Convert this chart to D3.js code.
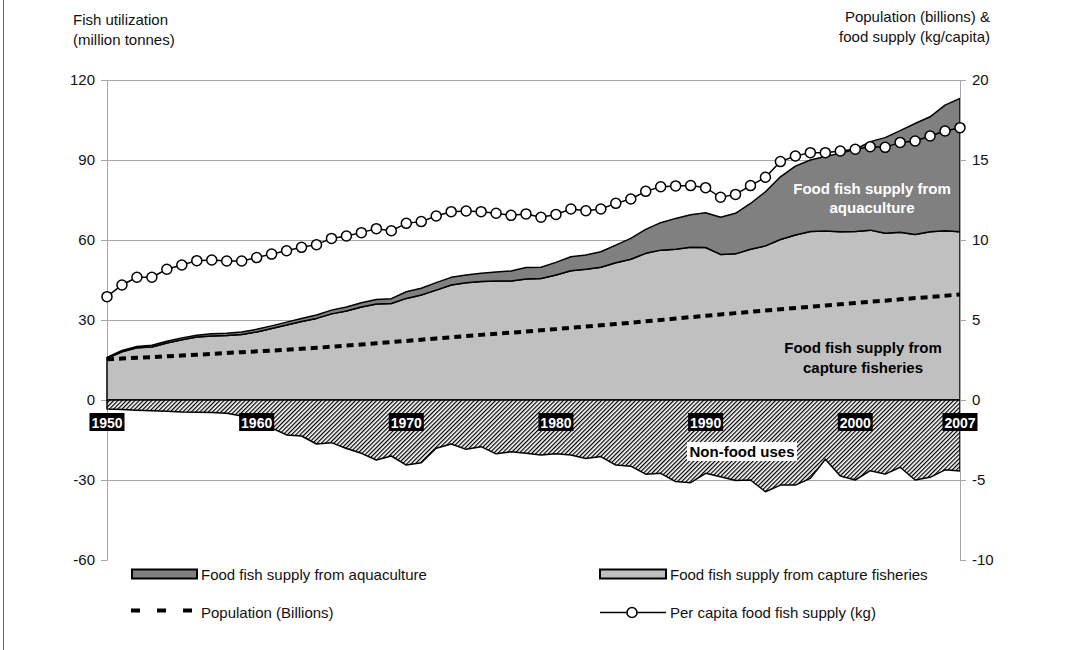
<!DOCTYPE html>
<html>
<head>
<meta charset="utf-8">
<script src="https://cdn.jsdelivr.net/npm/d3@7"></script>
<style>
body { margin: 0; background: #fff; }
text { font-family: "Liberation Sans", Arial, Helvetica, sans-serif; }
</style>
</head>
<body>
<script>
// years on the category axis
var years = d3.range(1950, 2008);

// food fish supply from capture fisheries (million tonnes)
var capture = [15.6, 18.1, 19.6, 19.9, 21.4, 22.6, 23.6, 24.0, 24.2, 24.6,
               25.5, 26.8, 28.1, 29.4, 30.6, 32.3, 33.4, 34.9, 36.0, 36.2,
               38.1, 39.4, 41.2, 43.1, 44.0, 44.4, 44.6, 44.6, 45.4, 45.6,
               46.9, 48.5, 49.0, 49.8, 51.5, 52.8, 55.0, 56.2, 56.5, 57.3,
               57.2, 54.6, 54.8, 56.5, 57.8, 60.2, 61.9, 63.2, 63.4, 63.1,
               63.2, 63.7, 62.5, 62.9, 62.1, 63.1, 63.5, 63.1];

// food fish supply from aquaculture (million tonnes)
var aquaculture = [0.4, 0.5, 0.5, 0.6, 0.6, 0.7, 0.7, 0.8, 0.8, 0.9,
                   1.0, 1.0, 1.1, 1.2, 1.3, 1.4, 1.5, 1.6, 1.7, 1.8,
                   2.5, 2.5, 2.8, 2.9, 2.9, 3.1, 3.4, 3.8, 4.3, 4.2,
                   4.7, 5.2, 5.4, 5.8, 6.6, 7.8, 9.0, 10.3, 11.6, 12.2,
                   13.0, 13.9, 15.2, 17.2, 20.3, 23.5, 25.8, 26.8, 27.9, 29.4,
                   30.8, 33.2, 35.9, 38.1, 41.6, 43.1, 47.1, 50.0];

// non-food uses (million tonnes, drawn below zero)
var nonFood = [-3.4, -3.6, -3.8, -4.0, -4.2, -4.5, -4.6, -4.7, -5.0, -6.0,
               -8.0, -10.5, -13.1, -13.5, -16.5, -16.0, -18.2, -20.0, -22.5, -21.0,
               -24.4, -23.5, -18.1, -16.5, -18.5, -17.5, -20.2, -19.4, -20.0, -20.6,
               -20.2, -20.6, -21.9, -21.2, -24.4, -24.8, -27.8, -27.5, -30.6, -31.0,
               -27.5, -28.8, -30.2, -30.0, -34.4, -31.9, -31.9, -29.4, -22.2, -28.5,
               -30.0, -26.5, -27.8, -25.2, -30.0, -29.0, -26.2, -26.6];

// population (billions), right axis
var population = [2.55, 2.59, 2.64, 2.68, 2.73, 2.78, 2.83, 2.88, 2.94, 2.99,
                  3.04, 3.08, 3.14, 3.20, 3.26, 3.33, 3.40, 3.47, 3.54, 3.62,
                  3.69, 3.77, 3.85, 3.92, 4.00, 4.07, 4.14, 4.21, 4.28, 4.36,
                  4.43, 4.51, 4.59, 4.67, 4.75, 4.83, 4.92, 5.00, 5.09, 5.18,
                  5.26, 5.35, 5.43, 5.51, 5.59, 5.67, 5.75, 5.83, 5.91, 5.98,
                  6.06, 6.14, 6.21, 6.29, 6.37, 6.44, 6.52, 6.60];

// per capita food fish supply (kg), right axis
var perCapita = [6.46, 7.19, 7.67, 7.67, 8.17, 8.44, 8.71, 8.75, 8.69, 8.69,
                 8.90, 9.12, 9.33, 9.54, 9.71, 10.10, 10.25, 10.46, 10.71, 10.58,
                 11.04, 11.15, 11.50, 11.77, 11.81, 11.77, 11.67, 11.54, 11.63, 11.42,
                 11.60, 11.94, 11.83, 11.94, 12.29, 12.56, 13.04, 13.33, 13.38, 13.40,
                 13.27, 12.67, 12.85, 13.40, 13.92, 14.90, 15.25, 15.46, 15.46, 15.56,
                 15.67, 15.83, 15.79, 16.10, 16.19, 16.50, 16.81, 17.02];

var yearLabels = [1950, 1960, 1970, 1980, 1990, 2000, 2007];
var leftTicks = [-60, -30, 0, 30, 60, 90, 120];
var rightTicks = [-10, -5, 0, 5, 10, 15, 20];
var gridTicks = [-30, 30, 60, 90, 120];

var width = 1068, height = 650;
var left = 107, right = 960, top_y = 80, bottom_y = 560;
var fontSize = 15;

var rows = years.map(function(y, i) {
    return {year: y, capture: capture[i], aquaculture: aquaculture[i],
            nonfood: nonFood[i], pop: population[i], pc: perCapita[i]};
});

var x_scale = d3.scaleLinear().domain([1950, 2007]).range([left, right]);
var yl = d3.scaleLinear().domain([-60, 120]).range([bottom_y, top_y]);
var yr = d3.scaleLinear().domain([-10, 20]).range([bottom_y, top_y]);

var svg = d3.select('body').append('svg').attr('width', width).attr('height', height);

// hatch pattern for non-food uses
var pat = svg.append('defs').append('pattern').attr('id', 'hatch')
    .attr('patternUnits', 'userSpaceOnUse').attr('width', 3).attr('height', 3)
    .attr('patternTransform', 'rotate(45)');
pat.append('rect').attr('width', 3).attr('height', 3).attr('fill', '#fff');
pat.append('line').attr('x1', 0.6).attr('y1', 0).attr('x2', 0.6).attr('y2', 3)
    .attr('stroke', '#000').attr('stroke-width', 1.3);

// outer frame line on the left
svg.append('line').attr('x1', 3.5).attr('x2', 3.5).attr('y1', 0).attr('y2', height)
    .attr('stroke', '#666').attr('stroke-width', 1);

// gridlines
var grid = svg.append('g').attr('transform', 'translate(' + left + ',0)')
    .call(d3.axisLeft(yl).tickValues(gridTicks).tickSize(-(right - left)).tickFormat(''));
grid.select('.domain').remove();
grid.selectAll('line').attr('stroke', '#a6a6a6');

// left axis
var axL = svg.append('g').attr('transform', 'translate(' + left + ',0)')
    .call(d3.axisLeft(yl).tickValues(leftTicks).tickSize(6).tickSizeOuter(0).tickPadding(6)
        .tickFormat(function(d) { return String(d); }));
axL.select('.domain').attr('stroke', '#a6a6a6');
axL.selectAll('line').attr('stroke', '#a6a6a6');
axL.selectAll('text').attr('font-size', fontSize).attr('fill', '#111')
    .attr('font-family', '"Liberation Sans", Arial, sans-serif');

// stacked food supply areas
var stacked = d3.stack().keys(['capture', 'aquaculture'])(rows);
var area = d3.area()
    .x(function(d) { return x_scale(d.data.year); })
    .y0(function(d) { return yl(d[0]); })
    .y1(function(d) { return yl(d[1]); });
var fills = ['#c0c0c0', '#808080'];
svg.append('g').selectAll('path').data(stacked).enter().append('path')
    .attr('d', area)
    .attr('fill', function(d, i) { return fills[i]; })
    .attr('stroke', '#000').attr('stroke-width', 1.5).attr('stroke-linejoin', 'round');

// non-food uses
var nfArea = d3.area()
    .x(function(d) { return x_scale(d.year); })
    .y0(yl(0))
    .y1(function(d) { return yl(d.nonfood); });
svg.append('path').datum(rows).attr('d', nfArea)
    .attr('fill', 'url(#hatch)').attr('stroke', '#000').attr('stroke-width', 1.5)
    .attr('stroke-linejoin', 'round');

// right axis
var axR = svg.append('g').attr('transform', 'translate(' + right + ',0)')
    .call(d3.axisRight(yr).tickValues(rightTicks).tickSize(6).tickSizeOuter(0).tickPadding(6)
        .tickFormat(function(d) { return String(d); }));
axR.select('.domain').attr('stroke', '#a6a6a6');
axR.selectAll('line').attr('stroke', '#a6a6a6');
axR.selectAll('text').attr('font-size', fontSize).attr('fill', '#111')
    .attr('font-family', '"Liberation Sans", Arial, sans-serif');

// population dashed line
var popLine = d3.line().x(function(d) { return x_scale(d.year); }).y(function(d) { return yr(d.pop); });
svg.append('path').datum(rows).attr('d', popLine)
    .attr('fill', 'none').attr('stroke', '#000').attr('stroke-width', 4)
    .attr('stroke-dasharray', '7,5');

// per capita line with circle markers
var pcLine = d3.line().x(function(d) { return x_scale(d.year); }).y(function(d) { return yr(d.pc); });
svg.append('path').datum(rows).attr('d', pcLine)
    .attr('fill', 'none').attr('stroke', '#000').attr('stroke-width', 1.5);
svg.append('g').selectAll('circle').data(rows).enter().append('circle')
    .attr('cx', function(d) { return x_scale(d.year); })
    .attr('cy', function(d) { return yr(d.pc); })
    .attr('r', 5).attr('fill', '#fff').attr('stroke', '#000').attr('stroke-width', 1.5);

// year labels (white on black)
var yl_g = svg.append('g').selectAll('g').data(yearLabels).enter().append('g')
    .attr('transform', function(d) { return 'translate(' + x_scale(d) + ',0)'; });
yl_g.append('rect').attr('x', -17.5).attr('y', 413).attr('width', 35).attr('height', 18).attr('fill', '#000');
yl_g.append('text').attr('y', 427.5).attr('text-anchor', 'middle').attr('fill', '#fff')
    .attr('font-size', 14).attr('font-weight', 'bold').text(function(d) { return d; });

// non-food label
svg.append('rect').attr('x', 687).attr('y', 442).attr('width', 110).attr('height', 19).attr('fill', '#fff');
svg.append('text').attr('x', 742).attr('y', 457).attr('text-anchor', 'middle')
    .attr('font-size', fontSize).attr('font-weight', 'bold').text('Non-food uses');

// area labels
var aqLbl = svg.append('text').attr('text-anchor', 'middle').attr('font-size', fontSize)
    .attr('font-weight', 'bold').attr('fill', '#fff');
aqLbl.append('tspan').attr('x', 872).attr('y', 194).text('Food fish supply from');
aqLbl.append('tspan').attr('x', 872).attr('y', 213).text('aquaculture');
var capLbl = svg.append('text').attr('text-anchor', 'middle').attr('font-size', fontSize)
    .attr('font-weight', 'bold').attr('fill', '#000');
capLbl.append('tspan').attr('x', 863).attr('y', 353).text('Food fish supply from');
capLbl.append('tspan').attr('x', 863).attr('y', 373).text('capture fisheries');

// axis titles
var lt = svg.append('text').attr('font-size', fontSize).attr('fill', '#111');
lt.append('tspan').attr('x', 73).attr('y', 25).text('Fish utilization');
lt.append('tspan').attr('x', 73).attr('y', 45).text('(million tonnes)');
var rt = svg.append('text').attr('font-size', fontSize).attr('fill', '#111').attr('text-anchor', 'end');
rt.append('tspan').attr('x', 990).attr('y', 22).text('Population (billions) &');
rt.append('tspan').attr('x', 990).attr('y', 42).text('food supply (kg/capita)');

// legend
var leg = svg.append('g').attr('font-size', fontSize).attr('fill', '#111');
leg.append('rect').attr('x', 132).attr('y', 569.5).attr('width', 65).attr('height', 9)
    .attr('fill', '#808080').attr('stroke', '#000').attr('stroke-width', 2);
leg.append('text').attr('x', 201).attr('y', 580).text('Food fish supply from aquaculture');
leg.append('rect').attr('x', 600).attr('y', 569.5).attr('width', 66).attr('height', 9)
    .attr('fill', '#c0c0c0').attr('stroke', '#000').attr('stroke-width', 2);
leg.append('text').attr('x', 670).attr('y', 580).text('Food fish supply from capture fisheries');
leg.append('line').attr('x1', 131).attr('x2', 193).attr('y1', 610.5).attr('y2', 610.5)
    .attr('stroke', '#000').attr('stroke-width', 4).attr('stroke-dasharray', '9,17');
leg.append('text').attr('x', 201).attr('y', 618).text('Population (Billions)');
leg.append('line').attr('x1', 600).attr('x2', 666).attr('y1', 612.5).attr('y2', 612.5)
    .attr('stroke', '#000').attr('stroke-width', 1.5);
leg.append('circle').attr('cx', 632).attr('cy', 612.5).attr('r', 5)
    .attr('fill', '#fff').attr('stroke', '#000').attr('stroke-width', 1.5);
leg.append('text').attr('x', 670).attr('y', 618).text('Per capita food fish supply (kg)');
</script>
</body>
</html>
